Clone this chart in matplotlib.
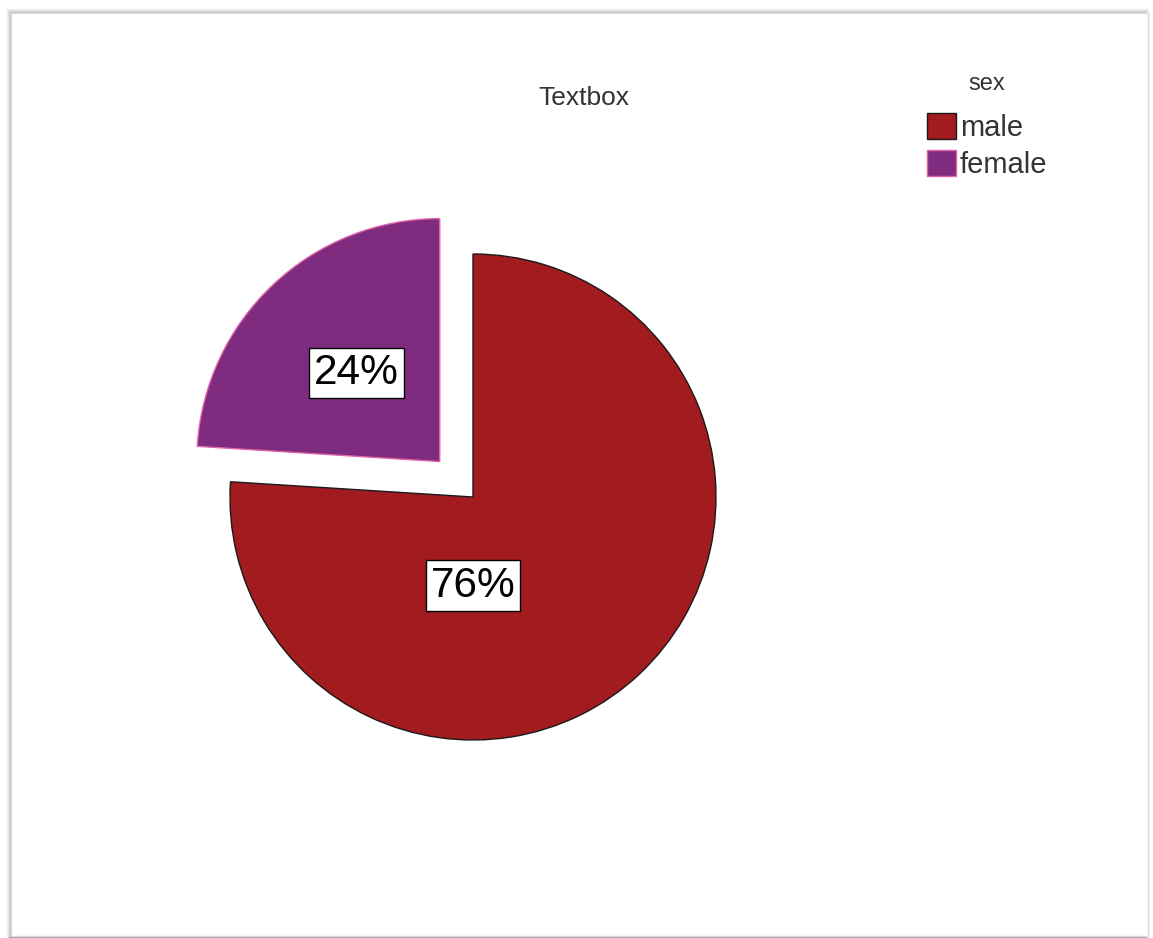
import matplotlib.pyplot as plt
from matplotlib.patches import Rectangle

plt.rcParams['font.family'] = ['Liberation Sans', 'DejaVu Sans']

# data
categories = ['male', 'female']
shares = [76, 24]
colors = ['#A11B1F', '#7F2B80']
edges = ['#1a1a1a', '#E065A8']
explode = [0, 0.2]

W, H = 1153, 938
fig = plt.figure(figsize=(W / 100, H / 100), dpi=100)
fig.patch.set_facecolor('white')

# panel with a soft shadow on the left/top edges
for i, a in enumerate([0.05, 0.08, 0.12, 0.2]):
    fig.patches.append(Rectangle(((7 + i) / W, 1 - 937 / H), (1141 - 2 * i) / W, (928 - i) / H,
                                 transform=fig.transFigure, facecolor='none',
                                 edgecolor='black', alpha=a, linewidth=1, zorder=-10))
fig.patches.append(Rectangle((11 / W, 1 - 936 / H), 1137 / W, 923 / H,
                             transform=fig.transFigure, facecolor='white',
                             edgecolor='#dddddd', linewidth=1, zorder=-9))

ax = fig.add_axes([0, 0, 1, 1])
ax.patch.set_alpha(0)

cx, cy, r = 473, H - 497, 243
# pie() offsets exploded wedges in data units, so scale by the radius
wedges, texts, autotexts = ax.pie(
    shares, colors=colors, explode=[e * r for e in explode], startangle=90,
    counterclock=False, center=(cx, cy), radius=r, autopct='%1.0f%%',
    pctdistance=0.5, textprops={'fontsize': 30.5, 'color': 'black'}, frame=True)
ax.set_xlim(0, W)
ax.set_ylim(0, H)
ax.axis('off')

for w, ec in zip(wedges, edges):
    w.set_edgecolor(ec)
    w.set_linewidth(1.0)

for t in autotexts:
    t.set_bbox(dict(boxstyle='square,pad=0.12', facecolor='white',
                    edgecolor='black', linewidth=1))
# the larger slice label sits straight below the centre
x0, y0 = autotexts[0].get_position()
autotexts[0].set_position((cx, y0))

ax.text(584, H - 98, 'Textbox', fontsize=19, color='#333333',
        ha='center', va='center')

ax.text(987, H - 84, 'sex', fontsize=17, color='#333333',
        ha='center', va='center')
leg = ax.legend(wedges, categories, loc='upper left',
                bbox_to_anchor=(927 / W, 1 - 113 / H), frameon=False,
                fontsize=21, handlelength=1.0, handleheight=1.0,
                handletextpad=0.12, labelspacing=0.28,
                borderpad=0, borderaxespad=0)
for t in leg.get_texts():
    t.set_color('#333333')

fig.savefig('out.png', dpi=100)
